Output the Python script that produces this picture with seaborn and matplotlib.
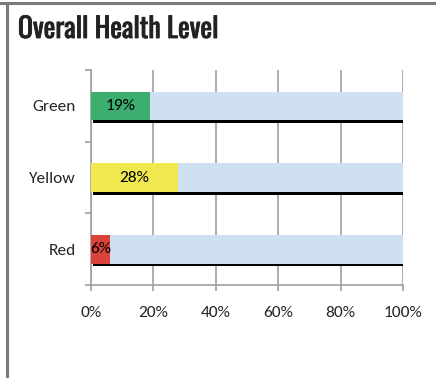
import matplotlib
matplotlib.use("Agg")
import matplotlib.pyplot as plt
import matplotlib.patheffects as pe
import seaborn as sns
import pandas as pd

categories = ["Green", "Yellow", "Red"]
values = [19, 28, 6]
totals = [100, 100, 100]
colors = ["#3DAE6F", "#F0E84E", "#D9433A"]
bg_color = "#CFE0F3"
xticks = [0, 20, 40, 60, 80, 100]
xtick_labels = ["0%", "20%", "40%", "60%", "80%", "100%"]
title = "Overall Health Level"

sns.set_theme(style="white")
plt.rcParams["font.family"] = ["Carlito", "Lato", "DejaVu Sans"]

W, H = 436, 378
FS = 12.5
fig = plt.figure(figsize=(W / 100, H / 100), dpi=100)
ax = fig.add_axes([91 / W, 1 - 285 / H, (403 - 91) / W, (285 - 70) / H])

df = pd.DataFrame({"cat": categories, "val": values, "tot": totals})

# background (100%) bars with shadow
sns.barplot(data=df, x="tot", y="cat", orient="h", color=bg_color,
            width=0.4, ax=ax, zorder=3, saturation=1)
bg_patches = list(ax.patches)
for p in bg_patches:
    p.set_path_effects([pe.SimplePatchShadow(offset=(1.6, -2.0), shadow_rgbFace="black", alpha=1.0),
                        pe.Normal()])
    p.set_edgecolor("none")

sns.barplot(data=df, x="val", y="cat", hue="cat", palette=colors, orient="h",
            width=0.4, ax=ax, zorder=4, saturation=1, legend=False)
for p in ax.patches[len(bg_patches):]:
    p.set_edgecolor("none")

# value labels centered in colored segment
for i, v in enumerate(values):
    ax.text(v / 2, i, f"{v}%", ha="center", va="center", fontsize=FS,
            color="black", zorder=5)

ax.set_xlim(0, 100)
ax.set_ylim(2.5, -0.5)
ax.set_xlabel("")
ax.set_ylabel("")

ax.set_xticks(xticks)
ax.set_xticklabels(xtick_labels, fontsize=FS)
ax.xaxis.grid(True, color="#A0A0A0", linewidth=1.2, zorder=0)
ax.set_axisbelow(True)

ax.set_yticks([-0.5, 0.5, 1.5, 2.5])
ax.set_yticklabels([])
ax.set_yticks([0, 1, 2], minor=True)
ax.set_yticklabels(categories, minor=True, fontsize=FS)
ax.tick_params(axis="y", which="major", length=4, width=1.2, color="#A0A0A0", left=True)
ax.tick_params(axis="y", which="minor", length=0, pad=11)
ax.tick_params(axis="x", which="major", length=4, width=1.2, color="#A0A0A0",
               bottom=True, pad=11)

for s in ["top", "right"]:
    ax.spines[s].set_visible(False)
for s in ["left", "bottom"]:
    ax.spines[s].set_color("#A0A0A0")
    ax.spines[s].set_linewidth(1.2)

# frame lines
fig.add_artist(plt.Line2D([0, 1], [1 - 2.5 / H, 1 - 2.5 / H], color="#7A7A7A", lw=2.2,
                          transform=fig.transFigure))
fig.add_artist(plt.Line2D([6.5 / W, 6.5 / W], [0, 1 - 2.5 / H], color="#7A7A7A", lw=2.2,
                          transform=fig.transFigure))

fig.text(18 / W, 1 - 38 / H, title, fontsize=20, fontweight="bold",
         family=["Oswald", "Fjalla One", "League Gothic", "DejaVu Sans"], color="#222222",
         ha="left", va="baseline",
         path_effects=[pe.withStroke(linewidth=0.6, foreground="#222222")])

fig.savefig("out.png", dpi=100, facecolor="white")
